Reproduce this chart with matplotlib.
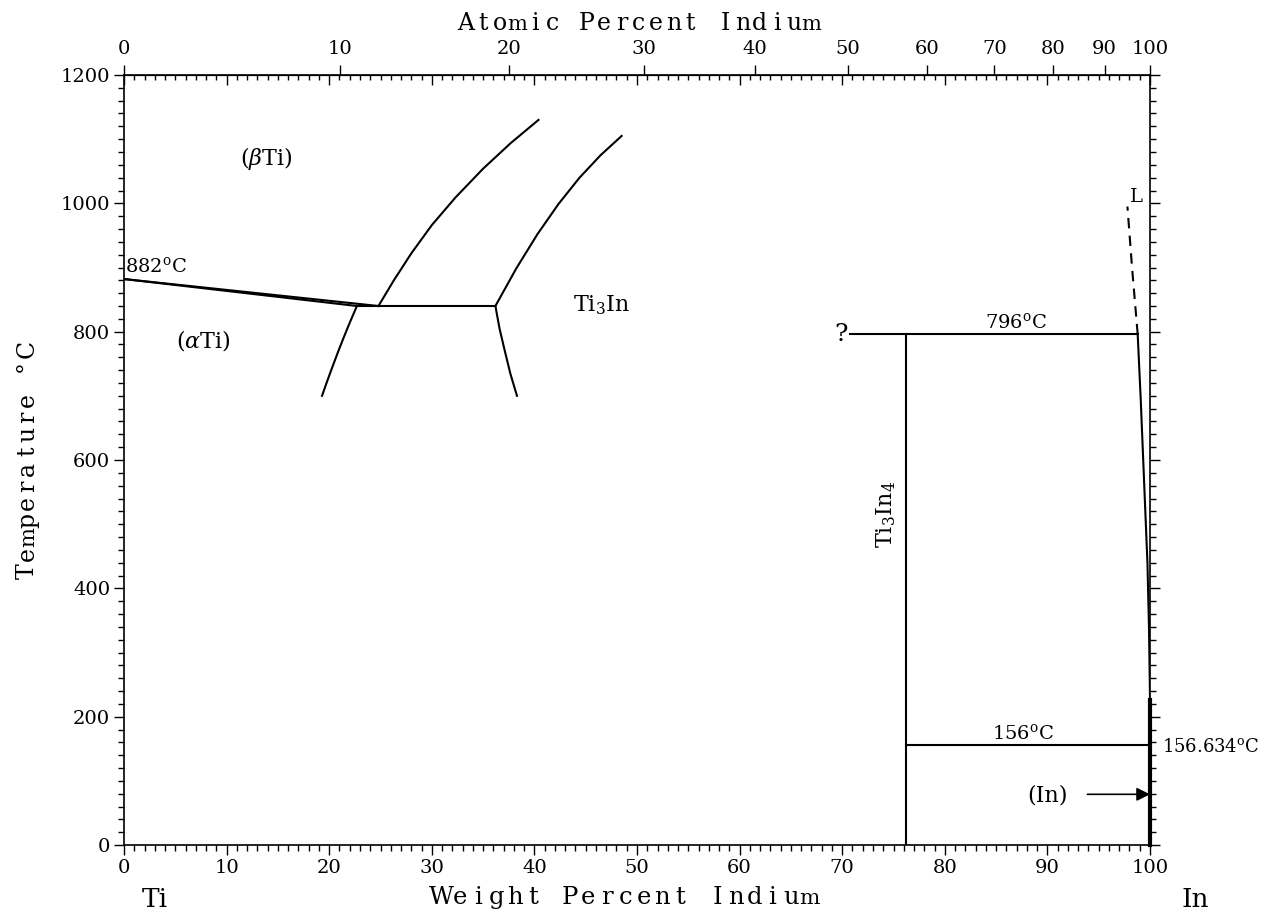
import numpy as np
import matplotlib
matplotlib.use('Agg')
import matplotlib.pyplot as plt
from matplotlib.ticker import MultipleLocator, NullFormatter, NullLocator

plt.rcParams['font.family'] = 'DejaVu Serif'
plt.rcParams['mathtext.fontset'] = 'dejavuserif'

# atomic masses for the top (atomic %) scale
M_TI = 47.867
M_IN = 114.818

# phase boundaries, weight % In vs temperature (deg C)
alpha_beta_wt = [0, 22.7]
alpha_beta_T = [882, 840]
beta_transus_wt = [0, 24.8]
beta_transus_T = [882, 840]
eutectoid_wt = [22.7, 36.2]
eutectoid_T = [840, 840]
alpha_solvus_wt = [22.7, 22.03, 21.39, 20.9, 20.31, 19.74, 19.3]
alpha_solvus_T = [840, 815, 790, 770, 745, 720, 700]
beta_upper_wt = [24.8, 26.3, 28.0, 30.0, 32.3, 35.0, 37.7, 40.4]
beta_upper_T = [840, 880, 922, 966, 1009, 1054, 1094, 1130]
ti3in_upper_wt = [36.2, 38.25, 40.3, 42.35, 44.4, 46.45, 48.5]
ti3in_upper_T = [840, 899, 952, 999, 1040, 1075, 1105]
ti3in_lower_wt = [36.2, 36.6, 37.1, 37.65, 38.3]
ti3in_lower_T = [840, 805, 771, 735, 700]
peritectic_wt = [70.8, 98.8]
peritectic_T = [796, 796]
ti3in4_wt = [76.2, 76.2]
ti3in4_T = [0, 796]
liquidus_wt = [98.8, 98.25, 97.8]
liquidus_T = [796, 900, 995]
solidus_wt = [98.8, 99.1, 99.5, 99.75, 99.9, 100.0]
solidus_T = [796, 693, 537, 440, 340, 230]
eutectic_wt = [76.2, 100]
eutectic_T = [156, 156]
in_ss_wt = [100, 100]
in_ss_T = [0, 226]

at_ticks = [0, 10, 20, 30, 40, 50, 60, 70, 80, 90, 100]

W, H = 1265, 915


def at2wt(a):
    a = np.asarray(a, dtype=float)
    return 100 * a * M_IN / (a * M_IN + (100 - a) * M_TI)


def wt2at(w):
    w = np.asarray(w, dtype=float)
    return 100 * (w / M_IN) / (w / M_IN + (100 - w) / M_TI)


def spaced(fig, s, x0, y0, adv, size, vertical=False):
    """typewriter style label: one glyph per fixed cell, on a common baseline
    (x0, y0 = start of the baseline in pixels from the top left)"""
    for i, ch in enumerate(s):
        if ch == ' ':
            continue
        # the wide m squeezed a bit, like a fixed pitch face
        sz = size * 0.88 if ch == 'm' else size
        if vertical:
            x, y, rot = x0, y0 - (i + 0.5) * adv, 90
        else:
            x, y, rot = x0 + (i + 0.5) * adv, y0, 0
        fig.text(x / W, 1 - y / H, ch, fontsize=sz, rotation=rot,
                 rotation_mode='anchor', ha='center', va='baseline',
                 family='DejaVu Serif')


fig = plt.figure(figsize=(12.65, 9.15), dpi=100)
ax = fig.add_axes([124 / W, 1 - 845 / H, 1026 / W, 770 / H])
lw = 1.5
k = 'black'

ax.plot(alpha_beta_wt, alpha_beta_T, color=k, lw=lw)
ax.plot(beta_transus_wt, beta_transus_T, color=k, lw=lw)
ax.plot(eutectoid_wt, eutectoid_T, color=k, lw=lw)
ax.plot(alpha_solvus_wt, alpha_solvus_T, color=k, lw=lw)
ax.plot(beta_upper_wt, beta_upper_T, color=k, lw=lw)
ax.plot(ti3in_upper_wt, ti3in_upper_T, color=k, lw=lw)
ax.plot(ti3in_lower_wt, ti3in_lower_T, color=k, lw=lw)
ax.plot(peritectic_wt, peritectic_T, color=k, lw=lw)
ax.plot(ti3in4_wt, ti3in4_T, color=k, lw=lw)
ax.plot(liquidus_wt, liquidus_T, color=k, lw=lw, dashes=(5, 3.5))
ax.plot(solidus_wt, solidus_T, color=k, lw=lw)
ax.plot(eutectic_wt, eutectic_T, color=k, lw=lw)
ax.plot(in_ss_wt, in_ss_T, color=k, lw=3, clip_on=False)

ax.set_xlim(0, 100)
ax.set_ylim(0, 1200)

# bottom / left / right ticks point outward
ax.xaxis.set_major_locator(MultipleLocator(10))
ax.xaxis.set_minor_locator(MultipleLocator(1))
ax.yaxis.set_major_locator(MultipleLocator(200))
ax.yaxis.set_minor_locator(MultipleLocator(20))
ax.tick_params(axis='x', which='both', bottom=True, top=False, direction='out', width=1)
ax.tick_params(axis='x', which='major', length=7, labelsize=14, pad=3)
ax.tick_params(axis='x', which='minor', length=4.5)
ax.tick_params(axis='y', which='both', left=True, right=True, direction='out', width=1)
ax.tick_params(axis='y', which='major', length=7, labelsize=14, pad=3)
ax.tick_params(axis='y', which='minor', length=4.5)
for sp in ax.spines.values():
    sp.set_linewidth(1.2)

# top: weight % ticks inward, no labels
topw = ax.secondary_xaxis('top')
topw.xaxis.set_major_locator(MultipleLocator(10))
topw.xaxis.set_minor_locator(MultipleLocator(1))
topw.xaxis.set_major_formatter(NullFormatter())
topw.tick_params(which='both', direction='in', width=1)
topw.tick_params(which='major', length=7)
topw.tick_params(which='minor', length=3.5)

# top: atomic % ticks outward with labels
top = ax.secondary_xaxis('top', functions=(wt2at, at2wt))
top.set_xticks(at_ticks)
top.xaxis.set_minor_locator(NullLocator())
top.tick_params(direction='out', length=7, width=1, labelsize=14, pad=5)

spaced(fig, 'Weight Percent Indium', 432, 904, 18.4, 17.5)
spaced(fig, 'Atomic Percent Indium', 457, 30, 17.3, 17)
spaced(fig, 'Temperature °C', 34, 580, 17.1, 17, vertical=True)

fs = 16
ax.text(13.9, 1070, r'($\beta$Ti)', fontsize=fs, ha='center', va='center')
ax.text(7.7, 787, r'($\alpha$Ti)', fontsize=fs, ha='center', va='center')
ax.text(46.5, 841, r'Ti$_3$In', fontsize=fs, ha='center', va='center')
ax.text(0.1, 886, r'882$^{\rm o}$C', fontsize=14, ha='left', va='bottom')
ax.text(69.9, 796, '?', fontsize=18, ha='center', va='center')
ax.text(86.9, 799, r'796$^{\rm o}$C', fontsize=14, ha='center', va='bottom')
ax.text(87.6, 159, r'156$^{\rm o}$C', fontsize=14, ha='center', va='bottom')
ax.text(101.2, 153, r'156.634$^{\rm o}$C', fontsize=13, ha='left', va='center')
ax.text(98.7, 1010, 'L', fontsize=14, ha='center', va='center')
ax.text(74.3, 515, r'Ti$_3$In$_4$', fontsize=fs, rotation=90, ha='center', va='center')
ax.text(90.0, 77, '(In)', fontsize=fs, ha='center', va='center')
ax.annotate('', xy=(100, 79), xytext=(93.9, 79),
            arrowprops=dict(arrowstyle='-|>', color=k, lw=1.2,
                            mutation_scale=20, shrinkA=0, shrinkB=0))
ax.text(3.0, -85, 'Ti', fontsize=19, ha='center', va='center', clip_on=False)
ax.text(104.4, -85, 'In', fontsize=19, ha='center', va='center', clip_on=False)

fig.savefig('out.png', dpi=100, facecolor='white')
